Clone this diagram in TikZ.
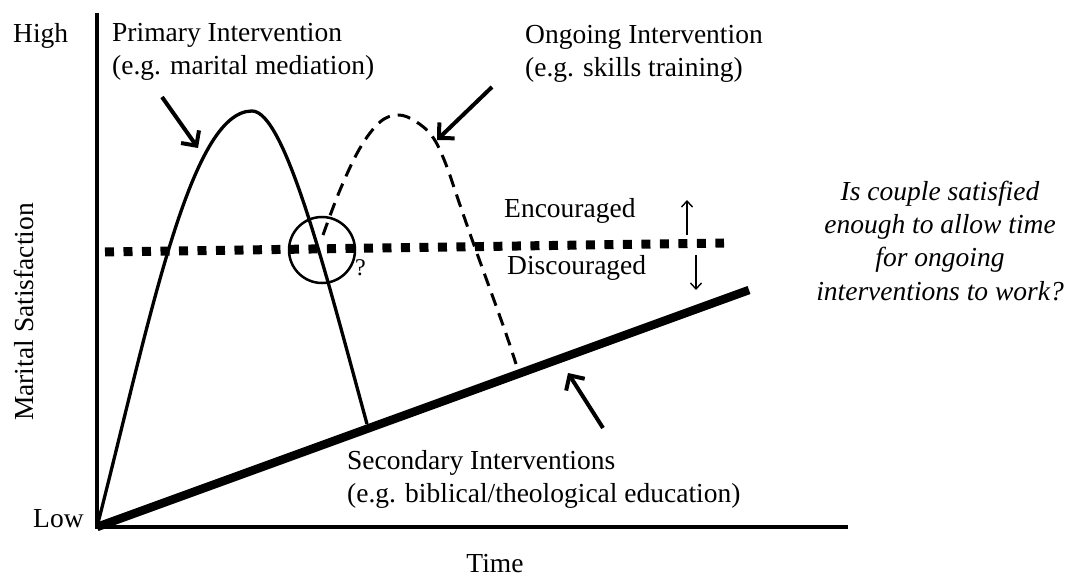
\documentclass[tikz,border=0pt]{standalone}
\usepackage{fontspec}
\setmainfont{Liberation Serif}
\usetikzlibrary{arrows.meta}
\begin{document}
\begin{tikzpicture}[x=1pt,y=-1pt,
  lbl/.style={inner sep=0pt,font=\fontsize{27.5}{33}\selectfont},
  axis/.style={line width=4pt},
  curvesolid/.style={line width=3.3pt},
  curvedash/.style={line width=3pt,dash pattern=on 13pt off 8pt},
  thresh/.style={line width=9pt,dash pattern=on 9pt off 9.5pt},
  bigarrow/.style={line width=4pt,-{Straight Barb[length=11pt,width=22pt,line width=4pt]}},
  smallarrow/.style={line width=1.4pt,-{Straight Barb[length=6pt,width=11pt,line width=1.4pt]}}]
\useasboundingbox (0,0) rectangle (1065,585);
% axes
\coordinate (ytop) at (97,13);
\coordinate (origin) at (97,527);
\coordinate (xend) at (848,527);
\draw[axis] (ytop) -- (97,529);
\draw[axis] (95,527) -- (xend);
% secondary line
\coordinate (secend) at (749,290);
\draw[line width=8.5pt] (origin) -- (secend);
% threshold line
\coordinate (thl) at (105,252);
\coordinate (thr) at (724,243);
\draw[thresh] (thl) -- (thr);
% primary curve
\coordinate (ppeak) at (252,111);
\coordinate (pend) at (367,424);
\draw[curvesolid] (origin) .. controls (150,320) and (190,111) .. (ppeak)
  .. controls (285,111) and (326,274) .. (pend);
% ongoing dashed curve
\draw[curvedash] plot[smooth,tension=0.6] coordinates {(323,235) (340,190) (360,148) (380,122) (398,115) (415,121) (432,136) (445,162) (460,205) (474,245) (504,328) (516,364)};
% circle
\node[draw,circle,line width=2.5pt,minimum size=66pt,inner sep=0pt] (circ) at (322,250) {};
\node[inner sep=0pt,font=\fontsize{24}{28}\selectfont,anchor=base west] (q) at (355,276) {?};
% labels
\node[lbl,anchor=base west] (high) at (13,43) {High};
\node[lbl,anchor=base west] (low) at (33,527) {Low};
\node[lbl,anchor=base,rotate=90] (ylab) at (33,312) {Marital Satisfaction};
\node[lbl,anchor=base] (time) at (495,572) {Time};
\node[lbl,anchor=base west,align=left] (prim) at (112,75) {Primary Intervention\\(e.g. marital mediation)};
\node[lbl,anchor=base west,align=left] (ong) at (525,77) {Ongoing Intervention\\(e.g. skills training)};
\node[lbl,anchor=base west,align=left] (sec) at (347,502) {Secondary Interventions\\(e.g. biblical/theological education)};
\node[lbl,anchor=base west] (enc) at (504,218) {Encouraged};
\node[lbl,anchor=base west] (disc) at (507,275) {Discouraged};
\node[lbl,anchor=base,align=center,font=\fontsize{27.5}{33.3}\selectfont\itshape] (quest) at (940,300) {Is couple satisfied\\enough to allow time\\for ongoing\\interventions to work?};
% arrows
\coordinate (pa1) at (162,97);  \coordinate (pa2) at (198,148);
\coordinate (oa1) at (492,87);  \coordinate (oa2) at (437,140);
\coordinate (sa1) at (603,428); \coordinate (sa2) at (568,373);
\coordinate (ua1) at (687,235); \coordinate (ua2) at (687,200);
\coordinate (da1) at (696,255); \coordinate (da2) at (696,290);
\draw[bigarrow] (pa1) -- (pa2);
\draw[bigarrow] (oa1) -- (oa2);
\draw[bigarrow] (sa1) -- (sa2);
\draw[smallarrow] (ua1) -- (ua2);
\draw[smallarrow] (da1) -- (da2);
\end{tikzpicture}
\end{document}
